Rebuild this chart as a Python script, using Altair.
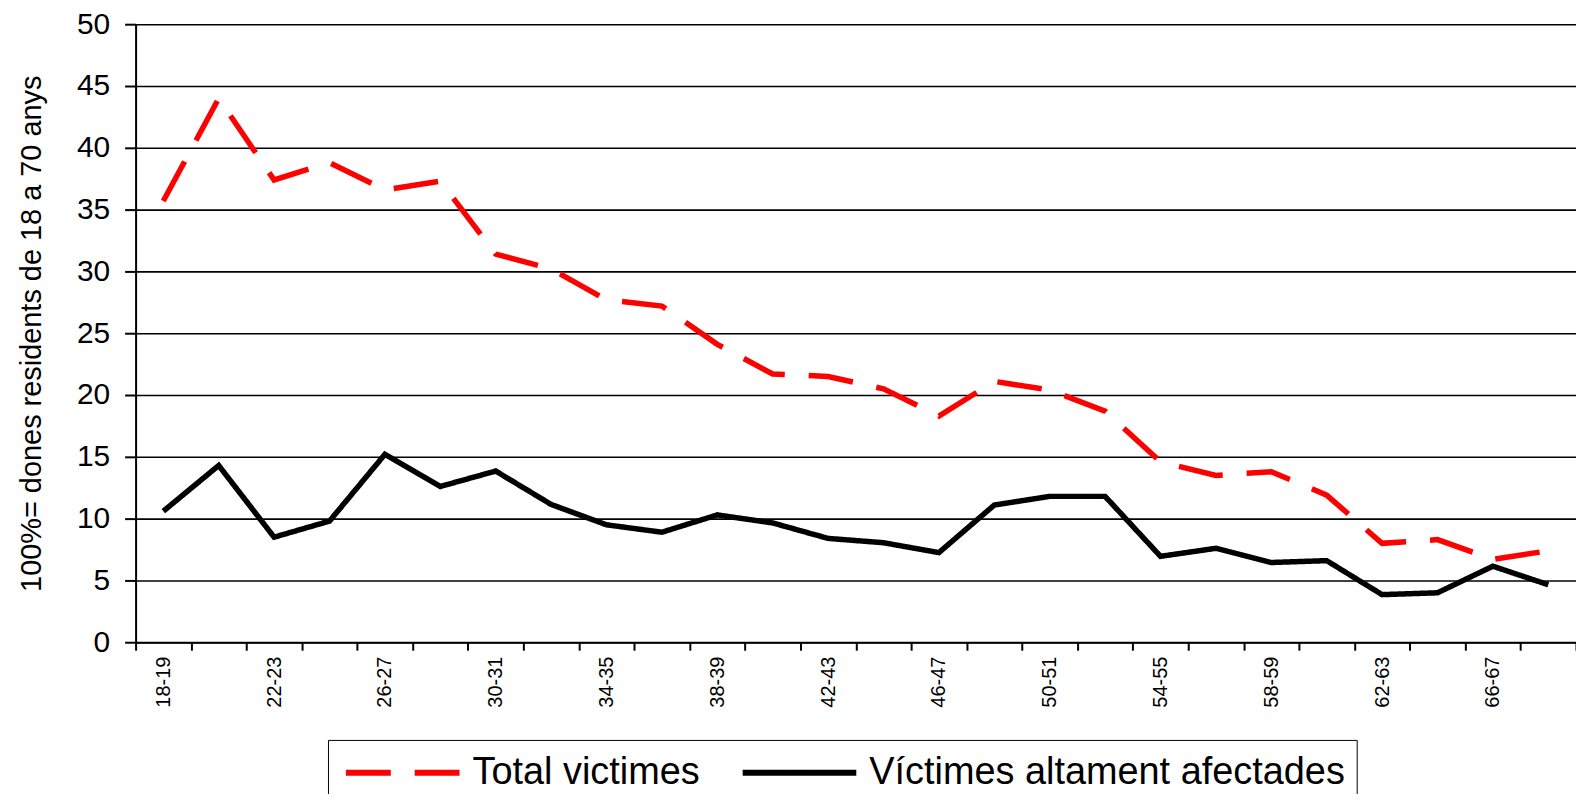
import altair as alt
import pandas as pd

# Age groups (x categories)
ages = ["18-19", "20-21", "22-23", "24-25", "26-27", "28-29", "30-31", "32-33",
        "34-35", "36-37", "38-39", "40-41", "42-43", "44-45", "46-47", "48-49",
        "50-51", "52-53", "54-55", "56-57", "58-59", "60-61", "62-63", "64-65",
        "66-67", "68-69"]

total_victimes = [35.7, 44.0, 37.4, 38.8, 36.6, 37.3, 31.4, 30.2, 27.7, 27.2,
                  24.1, 21.7, 21.5, 20.5, 18.3, 21.1, 20.4, 18.7, 14.6, 13.5,
                  13.8, 11.9, 8.0, 8.3, 6.7, 7.4]

altament_afectades = [10.6, 14.3, 8.5, 9.8, 15.2, 12.6, 13.85, 11.15, 9.5, 8.9,
                      10.3, 9.65, 8.4, 8.05, 7.25, 11.1, 11.8, 11.8, 6.95, 7.6,
                      6.45, 6.6, 3.85, 4.0, 6.15, 4.65]

series_names = ["Total victimes", "Víctimes altament afectades"]
y_ticks = [0, 5, 10, 15, 20, 25, 30, 35, 40, 45, 50]

rows = []
for a, v in zip(ages, total_victimes):
    rows.append({"edat": a, "valor": v, "serie": series_names[0]})
for a, v in zip(ages, altament_afectades):
    rows.append({"edat": a, "valor": v, "serie": series_names[1]})
df = pd.DataFrame(rows)

FONT = "Liberation Sans, Arial, sans-serif"

legend = alt.Legend(
    title=None,
    orient="none",
    legendX=193,
    legendY=718,
    direction="horizontal",
    symbolType="M-3,0H3",
    symbolSize=1444,
    symbolOffset=42,
    symbolStrokeWidth=6,
    labelFont=FONT,
    labelFontSize=38,
    labelColor="black",
    labelLimit=0,
    labelOffset=48,
    columnPadding=30,
    strokeColor="black",
    padding=11,
)

chart = alt.Chart(df).mark_line(strokeWidth=5.5, strokeCap="butt").encode(
    x=alt.X(
        "edat:N",
        sort=ages,
        bandPosition=0.5,
        scale=alt.Scale(type="band", domain=ages, paddingInner=0, paddingOuter=0),
        axis=alt.Axis(
            title=None,
            labelAngle=270,
            labelExpr="(parseInt(substring(datum.label, 0, 2)) - 18) % 4 == 0 ? datum.label : ''",
            tickBand="extent",
            labelFont=FONT,
            labelFontSize=20,
            labelColor="black",
            labelPadding=6,
            tickSize=8,
            tickColor="black",
            tickWidth=2,
            domainColor="black",
            domainWidth=2,
            grid=False,
            labelOverlap=False,
        ),
    ),
    y=alt.Y(
        "valor:Q",
        scale=alt.Scale(domain=[0, 50], nice=False),
        axis=alt.Axis(
            values=y_ticks,
            title="100%= dones residents de 18 a 70 anys",
            titleFont=FONT,
            titleFontSize=29,
            titleFontWeight="normal",
            titleColor="black",
            titlePadding=30,
            labelFont=FONT,
            labelFontSize=30,
            labelColor="black",
            labelPadding=15,
            tickSize=11,
            tickColor="black",
            tickWidth=2,
            domainColor="black",
            domainWidth=2,
            grid=True,
            gridColor="black",
            gridWidth=1.6,
        ),
    ),
    color=alt.Color(
        "serie:N",
        scale=alt.Scale(domain=series_names, range=["#ff0000", "#000000"]),
        legend=legend,
    ),
    strokeDash=alt.StrokeDash(
        "serie:N",
        scale=alt.Scale(domain=series_names, range=[[45, 24], [1, 0]]),
        legend=legend,
    ),
).properties(
    width=1445,
    height=620,
    autosize=alt.AutoSizeParams(type="none"),
    padding={"left": 128, "top": 15, "right": 0, "bottom": 151},
).configure_view(
    strokeWidth=0
)

chart.save("out.html", embed_options={"renderer": "svg", "actions": False})
